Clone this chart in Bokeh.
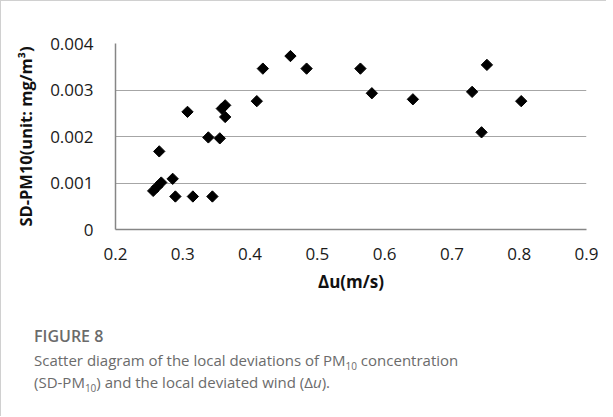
import numpy as np
from bokeh.plotting import figure
from bokeh.models import Div, FixedTicker, ColumnDataSource
from bokeh.layouts import column
from bokeh.embed import file_html
from bokeh.resources import INLINE

# Data (Δu in m/s, SD-PM10 in mg/m3)
du = [0.256, 0.262, 0.268, 0.265, 0.285, 0.289, 0.307, 0.315, 0.338, 0.344,
      0.355, 0.358, 0.363, 0.363, 0.410, 0.419, 0.460, 0.484, 0.564, 0.581,
      0.642, 0.730, 0.752, 0.744, 0.803]
sd_pm10 = [0.00083, 0.00092, 0.00101, 0.00168, 0.00109, 0.00071, 0.00253, 0.00071,
           0.00198, 0.00071, 0.00196, 0.00260, 0.00267, 0.00242, 0.00276, 0.00346,
           0.00373, 0.00346, 0.00346, 0.00293, 0.00280, 0.00296, 0.00354, 0.00209,
           0.00276]
x_ticks = [0.2, 0.3, 0.4, 0.5, 0.6, 0.7, 0.8, 0.9]
y_ticks = [0, 0.001, 0.002, 0.003, 0.004]
x_tick_labels = {0.2: "0.2", 0.3: "0.3", 0.4: "0.4", 0.5: "0.5", 0.6: "0.6",
                 0.7: "0.7", 0.8: "0.8", 0.9: "0.9"}
y_tick_labels = {0: "0", 0.001: "0.001", 0.002: "0.002", 0.003: "0.003", 0.004: "0.004"}

src = ColumnDataSource(dict(x=du, y=sd_pm10))

p = figure(width=605, height=294, output_backend="svg", toolbar_location=None,
           x_range=(0.2, 0.9), y_range=(0, 0.004),
           min_border_left=114, min_border_right=20, min_border_top=42,
           min_border_bottom=66)
p.outline_line_color = None
p.background_fill_color = "white"
p.border_fill_color = "white"

p.scatter("x", "y", source=src, marker="square", angle=np.pi / 4, size=8,
          fill_color="black", line_color="black")

font = "Open Sans"
p.xaxis.ticker = FixedTicker(ticks=x_ticks)
p.yaxis.ticker = FixedTicker(ticks=y_ticks)
p.xaxis.major_label_overrides = x_tick_labels
p.yaxis.major_label_overrides = y_tick_labels
for ax in (p.xaxis, p.yaxis):
    ax.major_tick_line_color = None
    ax.minor_tick_line_color = None
    ax.axis_line_color = "#868686"
    ax.axis_line_width = 1.5
    ax.major_label_text_font = font
    ax.major_label_text_font_size = "17px"
    ax.major_label_text_color = "#1a1a1a"
    ax.axis_label_text_font = font
    ax.axis_label_text_font_style = "bold"
    ax.axis_label_text_color = "#111111"
p.xaxis.axis_label_text_font_size = "17px"
p.yaxis.axis_label_text_font_size = "16.5px"
p.xaxis.major_label_standoff = 12
p.yaxis.major_label_standoff = 16
p.xaxis.axis_label = "\u0394u(m/s)"
p.yaxis.axis_label = "SD-PM10(unit: mg/m\u00b3)"
p.xaxis.axis_label_standoff = 7
p.yaxis.axis_label_standoff = 10

p.xgrid.grid_line_color = None
p.ygrid.grid_line_color = "#a6a6a6"
p.ygrid.grid_line_width = 1

sub = '<sub style="font-size:10px; line-height:0;">10</sub>'
caption = Div(
    text=(
        '<div style="font-family: \'Open Sans\'; color:#6b6b6b; line-height:22px;">'
        '<div style="font-size:16px; font-weight:600; margin-bottom:2px;">FIGURE 8</div>'
        '<div style="font-size:15px;">Scatter diagram of the local deviations of PM' + sub +
        ' concentration<br>(SD-PM' + sub + ') and the local deviated wind (\u0394<i>u</i>).</div>'
        '</div>'
    ),
    width=560, height=86, styles={"margin-left": "33px", "margin-top": "30px"},
)

layout = column(p, caption, spacing=0,
                styles={"border-top": "1px solid #d0d0d0", "border-left": "1px solid #d0d0d0"})

open("out.html", "w").write(file_html(layout, INLINE))
